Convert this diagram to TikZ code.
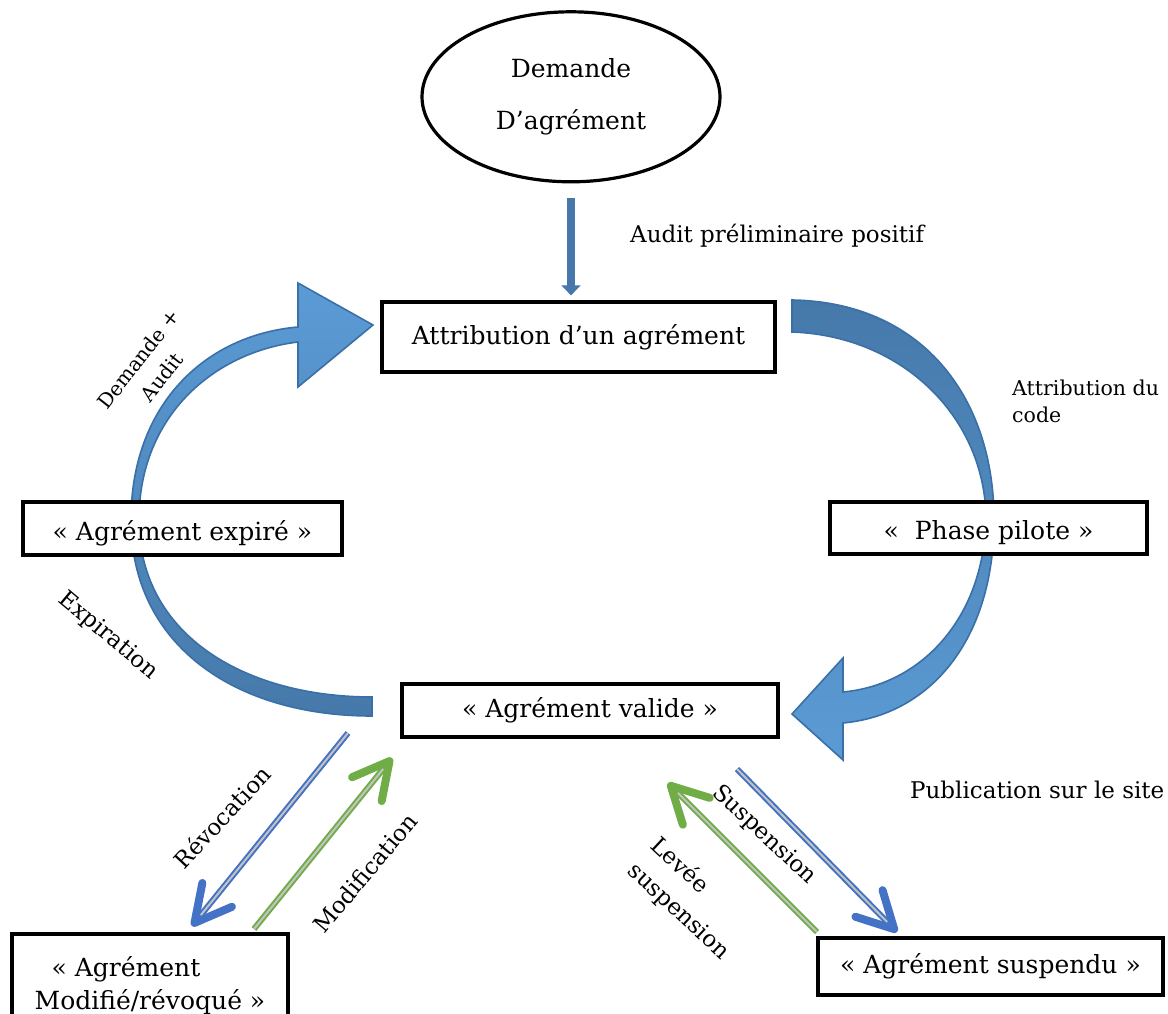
\documentclass[tikz,border=0pt]{standalone}
\usepackage{fontspec}
\setmainfont{DejaVu Serif}
\usetikzlibrary{arrows.meta,positioning,shapes.geometric}

\definecolor{arcdark}{RGB}{70,121,170}
\definecolor{arclight}{RGB}{91,155,213}
\definecolor{arcline}{RGB}{58,112,168}
\definecolor{revblue}{RGB}{68,114,196}
\definecolor{modgreen}{RGB}{112,173,71}
\definecolor{midgray}{RGB}{195,195,195}

\begin{document}
\begin{tikzpicture}[x=1pt,y=-1pt,
    box/.style={draw,line width=3.2pt,fill=white,inner sep=0pt,
      font=\fontsize{25}{30}\selectfont},
    lowtext/.style={text height=23pt,text depth=0pt},
    oval/.style={ellipse,draw,line width=3.2pt,inner sep=0pt,align=center,
      minimum width=298pt,minimum height=170pt,font=\fontsize{25}{52}\selectfont},
    lbl/.style={inner sep=0pt,font=\fontsize{23}{28}\selectfont},
    tilt/.style={inner sep=0pt,align=center,font=\fontsize{23}{29}\selectfont},
    band/.style={draw=arcline,line width=1.6pt,shading=axis},
    down/.style={draw=arcdark,line width=8pt,
      -{Triangle[length=10pt,width=19pt,line width=1pt]}},
    dbl/.style={draw=#1,line width=6pt,
      -{Straight Barb[length=36pt,width=38pt,line width=8pt,round]},
      postaction={draw=midgray,line width=2pt,-,shorten >=14pt}}]

\clip (0,0) rectangle (1168,1014);

% big curved arrows (drawn first, the boxes cover them)
\shadedraw[band,top color=arclight,bottom color=arcdark]
  (372,716) .. controls (235,716) and (131,645) .. (131,520)
  .. controls (131,405) and (205,335) .. (298,327)
  -- (298,283) -- (373,325) -- (298,387) -- (298,342)
  .. controls (215,352) and (139,415) .. (139,520)
  .. controls (139,635) and (245,697) .. (372,697) -- cycle;
\shadedraw[band,top color=arcdark,bottom color=arclight]
  (792,300) .. controls (920,302) and (994,395) .. (994,520)
  .. controls (994,640) and (930,715) .. (843,723)
  -- (843,760) -- (792,714) -- (843,658) -- (843,692)
  .. controls (920,685) and (983,620) .. (986,520)
  .. controls (986,420) and (905,336) .. (792,332) -- cycle;

% states
\node[box,minimum width=393pt,minimum height=70pt] (attr) at (578.5,337) {Attribution d’un agrément};
\node[oval] (dem) [above=117pt of attr,xshift=-7.5pt] {Demande\\D’agrément};
\node[box,lowtext,minimum width=319pt,minimum height=53pt] (expire) at (182.5,528.5) {« Agrément expiré »};
\node[box,lowtext,minimum width=317pt,minimum height=52pt] (pilote) at (988.5,528) {«~~Phase pilote »};
\node[box,minimum width=376pt,minimum height=53pt] (valide) at (590,710.5) {« Agrément valide »};
\node[box,minimum width=345pt,minimum height=57pt] (suspendu) at (990.5,966.5) {« Agrément suspendu »};
\node[box,minimum width=276pt,minimum height=104pt,align=left,
  font=\fontsize{25}{33}\selectfont] (modif) at (150,986)
  {\hspace*{17pt}« Agrément\\Modifié/révoqué »};

\draw[down,shorten <=15pt,shorten >=5pt] (dem.south) -- (dem.south |- attr.north);

% free ends of the straight arrows
\coordinate (rev-a) at (348,733);
\coordinate (rev-b) at (192,926);
\coordinate (mod-a) at (254,929);
\coordinate (mod-b) at (392,758);
\coordinate (sus-a) at (737,769);
\coordinate (sus-b) at (897,932);
\coordinate (lev-a) at (817,932);
\coordinate (lev-b) at (668,783);

\draw[dbl=revblue] (rev-a) -- (rev-b);
\draw[dbl=modgreen] (mod-a) -- (mod-b);
\draw[dbl=revblue] (sus-a) -- (sus-b);
\draw[dbl=modgreen] (lev-a) -- (lev-b);

% labels
\node[lbl,anchor=base west] (audit) at (630,242) {Audit préliminaire positif};
\node[lbl,anchor=base west,align=left,font=\fontsize{20.5}{27}\selectfont] (code) at (1012,422) {Attribution du\\code};
\node[lbl,anchor=base west] (publi) at (910,798) {Publication sur le site};
\node[tilt,rotate=52,font=\fontsize{20}{29}\selectfont] (dema) at (150,368) {Demande +\\Audit};
\node[tilt,rotate=-40] (expi) at (108,636) {Expiration};
\node[tilt,rotate=47] (revo) at (222,817) {Révocation};
\node[tilt,rotate=50] (modi) at (365,873) {Modification};
\node[tilt,rotate=-43] (susp) at (764,835) {Suspension};
\node[tilt,rotate=-43,align=left,font=\fontsize{23}{34}\selectfont] (leve) at (690,899) {Levée\\suspension};
\end{tikzpicture}
\end{document}
